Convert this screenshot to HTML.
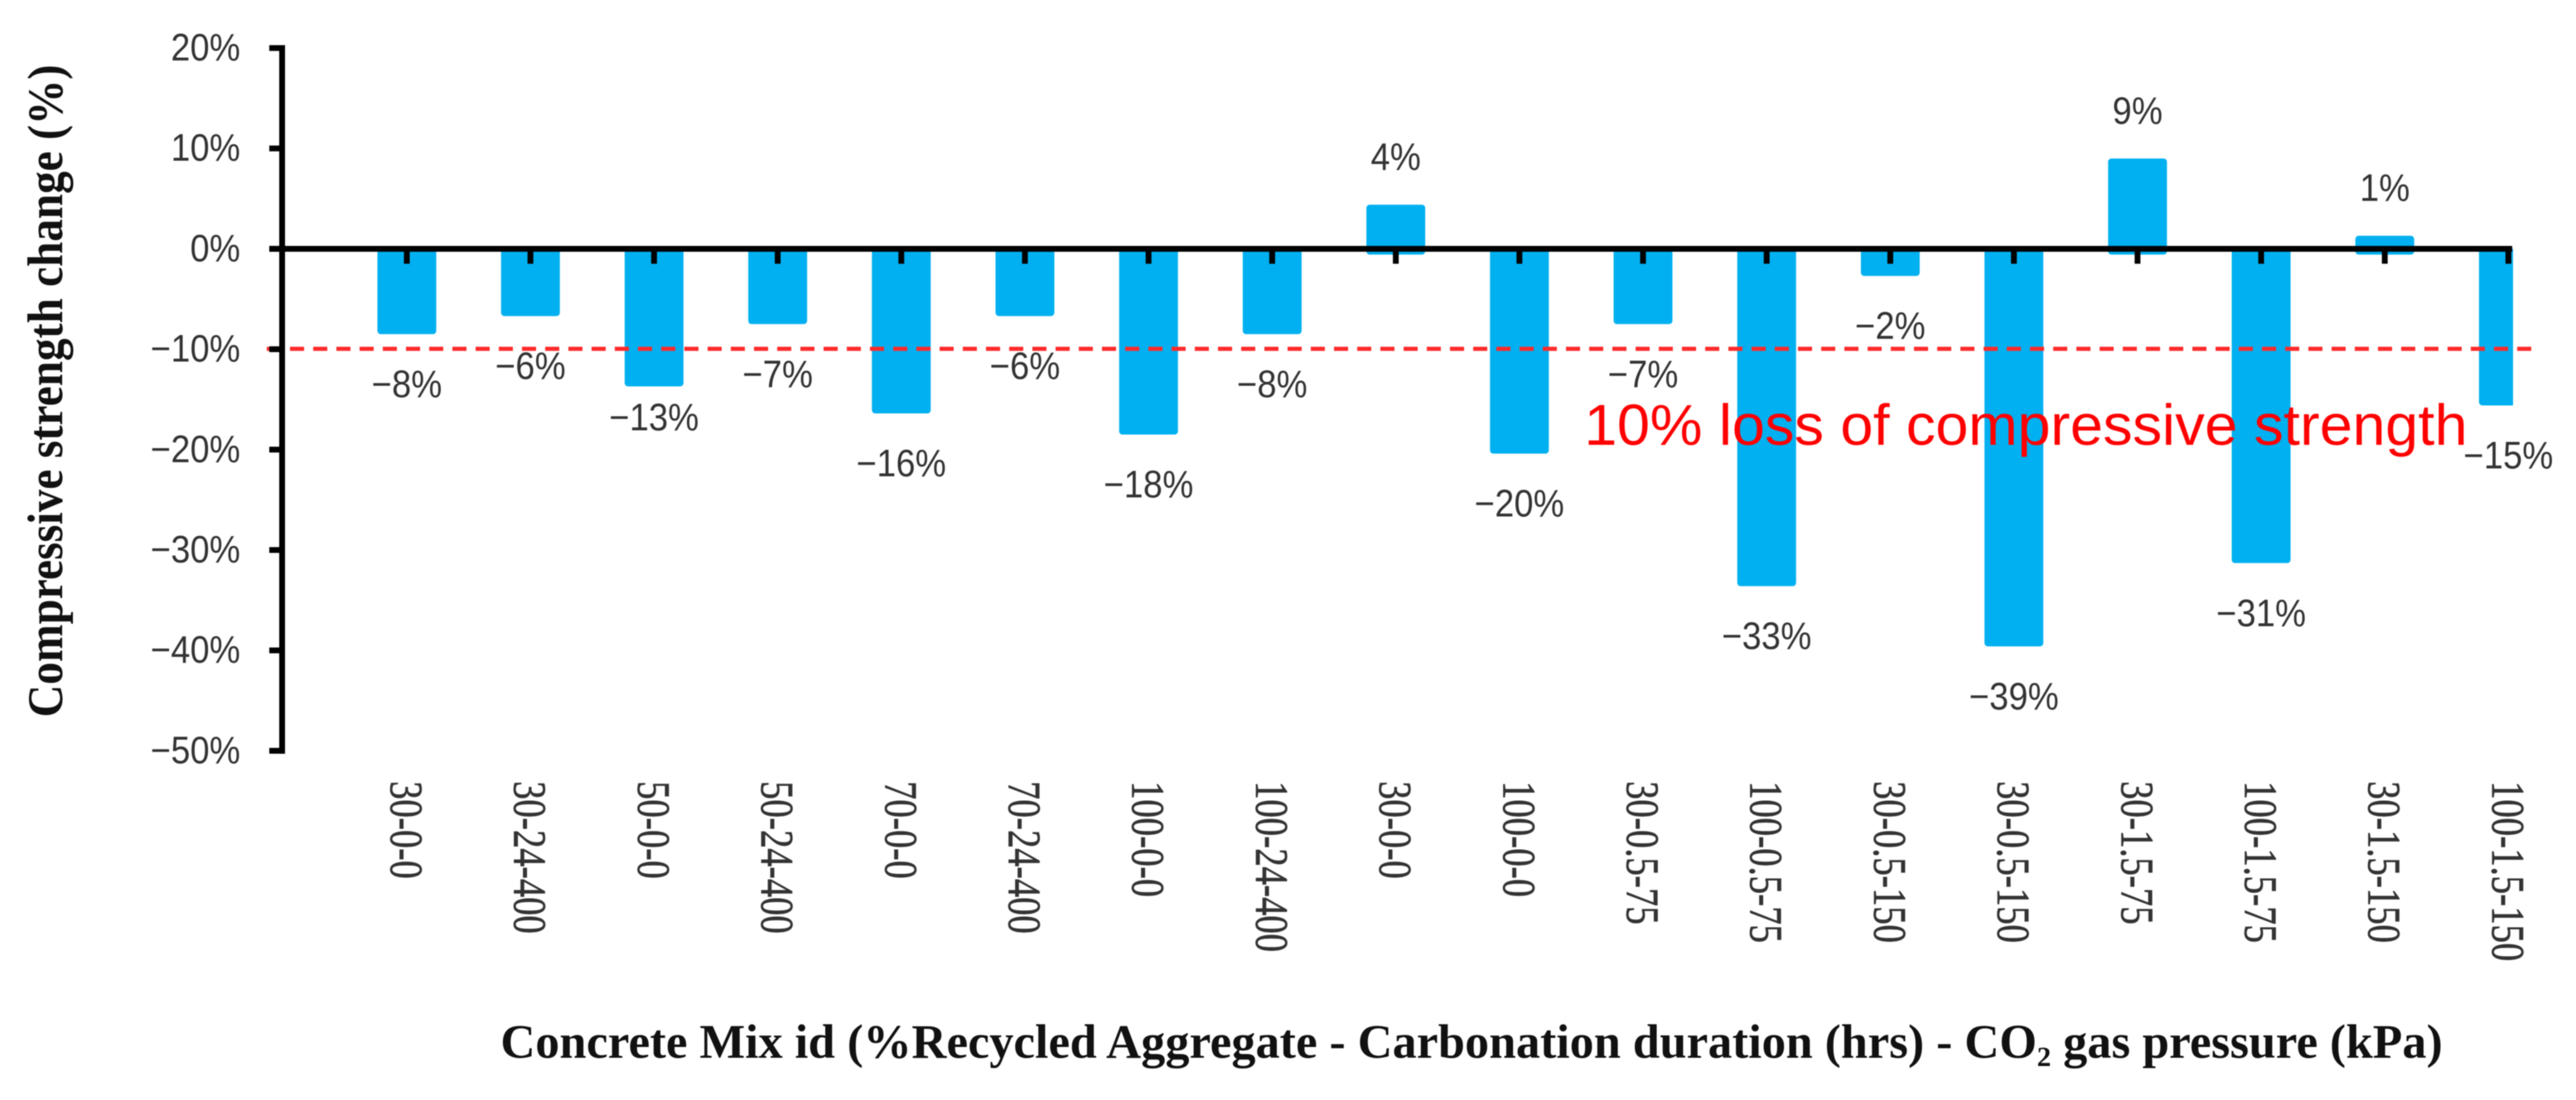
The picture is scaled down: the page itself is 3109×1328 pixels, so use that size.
<!DOCTYPE html>
<html lang="en">
<head>
<meta charset="utf-8">
<title>Compressive strength change by concrete mix</title>
<style>
html,body{margin:0;padding:0;background:#fff;width:3109px;height:1328px;overflow:hidden}
svg{display:block;filter:blur(0.6px)}
.tick{font-family:"Liberation Sans",sans-serif;font-size:46px;fill:#333}
.cat{font-family:"Liberation Serif",serif;font-size:56px;fill:#333;stroke:#333;stroke-width:0.7px}
.title{font-family:"Liberation Serif",serif;font-weight:bold;fill:#111}
</style>
</head>
<body>
<svg id="chart" xmlns="http://www.w3.org/2000/svg" width="3109" height="1328" viewBox="0 0 3109 1328">
  <defs><clipPath id="plot-clip"><rect x="300" y="0" width="2733" height="1000"/></clipPath></defs>
  <g id="bars" clip-path="url(#plot-clip)"></g>
  <g id="threshold-group"></g>
  <g id="axes"></g>
  <g id="y-labels"></g>
  <g id="value-labels"></g>
  <g id="cat-labels"></g>
  <text class="title" font-size="60" transform="translate(75,866) rotate(-90)" textLength="788" lengthAdjust="spacingAndGlyphs">Compressive strength change (%)</text>
  <text class="title" font-size="58" x="604" y="1277" textLength="2344" lengthAdjust="spacingAndGlyphs">Concrete Mix id (%Recycled Aggregate - Carbonation duration (hrs) - CO<tspan font-size="34" dy="10">2</tspan><tspan dy="-10"> gas pressure (kPa)</tspan></text>
  <text x="1912" y="537" font-family="Liberation Sans, sans-serif" font-size="70" fill="#ff0000" textLength="1066" lengthAdjust="spacingAndGlyphs">10% loss of compressive strength</text>
</svg>
<script>
const categories = ["30-0-0","30-24-400","50-0-0","50-24-400","70-0-0","70-24-400","100-0-0","100-24-400","30-0-0","100-0-0","30-0.5-75","100-0.5-75","30-0.5-150","30-0.5-150","30-1.5-75","100-1.5-75","30-1.5-150","100-1.5-150"];
const strengthChange = [-8.5,-6.7,-13.7,-7.5,-16.4,-6.7,-18.5,-8.5,4.4,-20.4,-7.5,-33.6,-2.7,-39.6,9.0,-31.3,1.3,-15.6];
const valueLabels = ["−8%","−6%","−13%","−7%","−16%","−6%","−18%","−8%","4%","−20%","−7%","−33%","−2%","−39%","9%","−31%","1%","−15%"];
const yTicks = [20,10,0,-10,-20,-30,-40,-50];
const yTickLabels = ["20%","10%","0%","−10%","−20%","−30%","−40%","−50%"];
const thresholdValue = [-10];

const NS = "http://www.w3.org/2000/svg";
const xOf = i => 491 + 149.2 * i;
const yOf = v => 300.4 - 12.12 * v;
const BAR_W = 71;
function mk(tag, attrs, parent, txt){
  const e = document.createElementNS(NS, tag);
  for (const k in attrs) e.setAttribute(k, attrs[k]);
  if (txt !== undefined) e.textContent = txt;
  parent.appendChild(e);
  return e;
}
function squeeze(el, k){
  const natural = el.getComputedTextLength();
  el.setAttribute('textLength', natural * k);
  el.setAttribute('lengthAdjust', 'spacingAndGlyphs');
}
const barsG = document.getElementById('bars');
const axesG = document.getElementById('axes');
const yLab = document.getElementById('y-labels');
const valLab = document.getElementById('value-labels');
const catLab = document.getElementById('cat-labels');
const thrG = document.getElementById('threshold-group');

strengthChange.forEach((v, i) => {
  const top = v >= 0 ? yOf(v) : yOf(0);
  const bottom = v >= 0 ? yOf(0) + 7 : yOf(v);
  const bar = mk('rect', {x: xOf(i) - BAR_W / 2, y: top, width: BAR_W, height: bottom - top, rx: 4, fill: '#00b0f0'}, barsG);
  
  

  const tk = mk('rect', {x: xOf(i) - 3.5, y: yOf(0), width: 7, height: 18, fill: '#000'}, axesG);
  
  

  let ly = v >= 0 ? yOf(v) - 42 : yOf(v) + 76;
  if (valueLabels[i] === "−13%") ly -= 23;
  const val = mk('text', {class: 'tick', x: xOf(i), y: ly, 'text-anchor': 'middle'}, valLab, valueLabels[i]);
  
  
  squeeze(val, 0.91);

  const cat = mk('text', {class: 'cat', transform: 'translate(' + (xOf(i) - 19.5) + ',943) rotate(90)'}, catLab, categories[i]);
  
  
  squeeze(cat, 0.79);
});

yTicks.forEach((t, i) => {
  const tk = mk('rect', {x: 325, y: yOf(t) - 3.5, width: 19, height: 7, fill: '#000'}, axesG);
  
  
  const lab = mk('text', {class: 'tick', x: 290, y: yOf(t) + 15, 'text-anchor': 'end'}, yLab, yTickLabels[i]);
  
  
  squeeze(lab, 0.91);
});

const yAxis = mk('rect', {x: 337, y: yOf(yTicks[0]) - 3.5, width: 7, height: yOf(yTicks[yTicks.length - 1]) - yOf(yTicks[0]) + 7, fill: '#000'}, axesG);


const xAxis = mk('rect', {x: 325, y: yOf(0) - 3.5, width: 2707, height: 7, fill: '#000'}, axesG);



const thr = mk('line', {x1: 322, x2: 3057, y1: yOf(thresholdValue[0]) - 0.5, y2: yOf(thresholdValue[0]) - 0.5, stroke: '#ff2a2a', 'stroke-width': 5, 'stroke-dasharray': '17 11'}, thrG);


</script>
</body>
</html>
